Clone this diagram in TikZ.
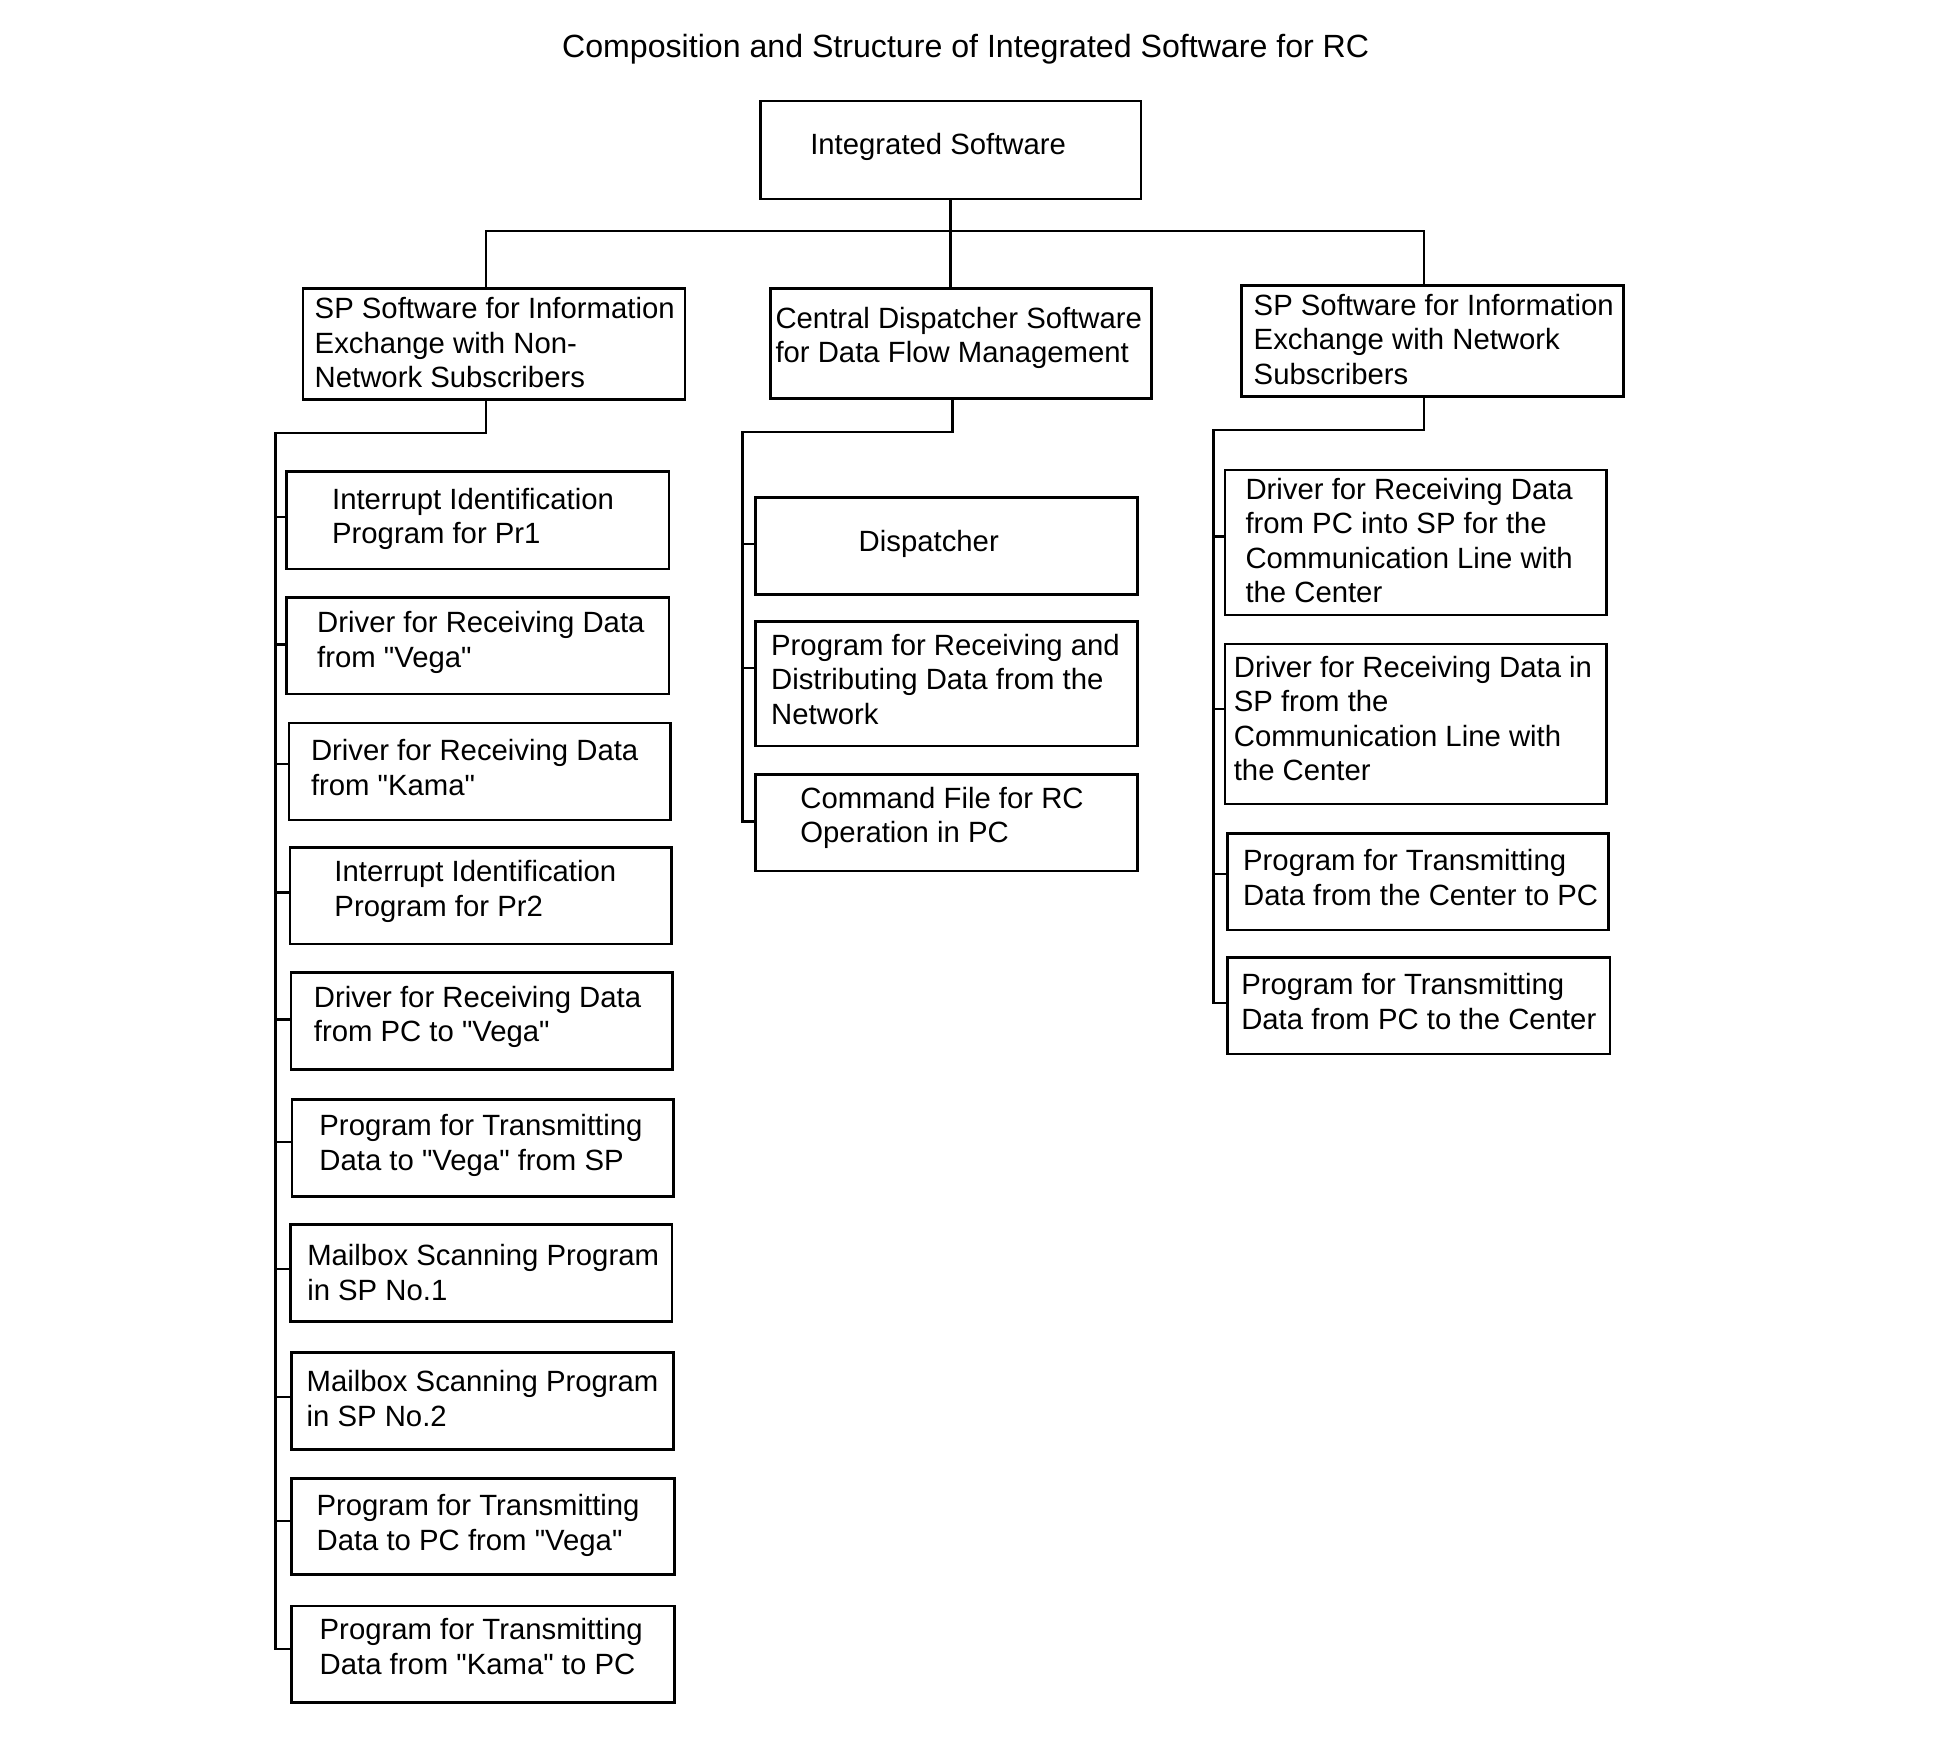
\documentclass[tikz,border=0pt]{standalone}
\usepackage{fontspec}
\setmainfont{Liberation Sans}[Ligatures=TeXOff]
\usetikzlibrary{fit}
\newcommand{\boxtext}[1]{\begin{tabular}[t]{@{}l@{}}#1\end{tabular}}
\begin{document}
\begin{tikzpicture}[x=0.4968pt,y=-0.4968pt,
  box/.style={draw, line width=1.15pt, inner sep=0pt},
  lbl/.style={anchor=base west, inner sep=0pt, font=\fontsize{11.72}{13.8}\selectfont},
  ttl/.style={anchor=base, inner sep=0pt, font=\fontsize{12.85}{15}\selectfont},
  conn/.style={line width=0.95pt, line join=miter}]
\fill[white] (0,0) rectangle (1566.8,1401);
\useasboundingbox (0,0) rectangle (1566.8,1401);

% title
\node[ttl] (title) at (777.5,46) {Composition and Structure of Integrated Software for RC};

% top box
\node[box, fit={(612,81.3)(918.7,160.2)}] (top) {};
\node[lbl] (topt) at (652,124) {Integrated Software};

% level 2
\node[box, fit={(244,232)(551.5,321.6)}] (sa) {};
\node[lbl] (sat) at (253,256.5) {\boxtext{SP Software for Information\\Exchange with Non-\\Network Subscribers}};
\node[box, fit={(620,232)(927,320.7)}] (sb) {};
\node[lbl] (sbt) at (624,264.4) {\boxtext{Central Dispatcher Software\\for Data Flow Management}};
\node[box, fit={(999.8,230)(1307,319.4)}] (sc) {};
\node[lbl] (sct) at (1009,254) {\boxtext{SP Software for Information\\Exchange with Network\\Subscribers}};

% left column
\node[box, fit={(230.8,379.8)(538.6,458.1)}] (l1) {};
\node[lbl] (l1t) at (267,410) {\boxtext{Interrupt Identification\\Program for Pr1}};
\node[box, fit={(230.8,481.2)(538.6,558.8)}] (l2) {};
\node[lbl] (l2t) at (255,509.4) {\boxtext{Driver for Receiving Data\\from "Vega"}};
\node[box, fit={(232.7,582.1)(540,660.2)}] (l3) {};
\node[lbl] (l3t) at (250,612.5) {\boxtext{Driver for Receiving Data\\from "Kama"}};
\node[box, fit={(233.5,682.2)(540.8,760)}] (l4) {};
\node[lbl] (l4t) at (268.9,709.9) {\boxtext{Interrupt Identification\\Program for Pr2}};
\node[box, fit={(234.3,783.2)(541.6,861)}] (l5) {};
\node[lbl] (l5t) at (252.3,811) {\boxtext{Driver for Receiving Data\\from PC to "Vega"}};
\node[box, fit={(235.1,885.1)(542.1,963)}] (l6) {};
\node[lbl] (l6t) at (256.8,914.6) {\boxtext{Program for Transmitting\\Data to "Vega" from SP}};
\node[box, fit={(234,986)(541,1064)}] (l7) {};
\node[lbl] (l7t) at (247,1019) {\boxtext{Mailbox Scanning Program\\in SP No.1}};
\node[box, fit={(235,1089)(542,1166.7)}] (l8) {};
\node[lbl] (l8t) at (246.5,1120.5) {\boxtext{Mailbox Scanning Program\\in SP No.2}};
\node[box, fit={(235,1190.5)(543,1268)}] (l9) {};
\node[lbl] (l9t) at (254.5,1220.5) {\boxtext{Program for Transmitting\\Data to PC from "Vega"}};
\node[box, fit={(235,1293)(543,1370.4)}] (l10) {};
\node[lbl] (l10t) at (257,1320.4) {\boxtext{Program for Transmitting\\Data from "Kama" to PC}};

% middle column
\node[box, fit={(608.4,400.7)(916,478.3)}] (m1) {};
\node[lbl] (m1t) at (691,444.2) {Dispatcher};
\node[box, fit={(608.4,500.5)(916,600.6)}] (m2) {};
\node[lbl] (m2t) at (620.5,527.4) {\boxtext{Program for Receiving and\\Distributing Data from the\\Network}};
\node[box, fit={(608.4,623.4)(916,701.3)}] (m3) {};
\node[lbl] (m3t) at (644,650.8) {\boxtext{Command File for RC\\Operation in PC}};

% right column
\node[box, fit={(986.3,378.4)(1293.6,495.2)}] (r1) {};
\node[lbl] (r1t) at (1002.4,402) {\boxtext{Driver for Receiving Data\\from PC into SP for the\\Communication Line with\\the Center}};
\node[box, fit={(986.3,518.5)(1293.6,647.3)}] (r2) {};
\node[lbl] (r2t) at (993,545.3) {\boxtext{Driver for Receiving Data in\\SP from the\\Communication Line with\\the Center}};
\node[box, fit={(988.2,671)(1295,748.8)}] (r3) {};
\node[lbl] (r3t) at (1000.5,701) {\boxtext{Program for Transmitting\\Data from the Center to PC}};
\node[box, fit={(988.5,771.1)(1296.3,848.6)}] (r4) {};
\node[lbl] (r4t) at (999,801) {\boxtext{Program for Transmitting\\Data from PC to the Center}};

% junction coordinates
\coordinate (bL) at (391.5,186);
\coordinate (bR) at (1146.3,186);
\coordinate (jL) at (391.5,348.6);
\coordinate (sL) at (221.8,348.6);
\coordinate (eL) at (221.8,1327.7);
\coordinate (jM) at (766.8,348);
\coordinate (sM) at (597.7,348);
\coordinate (eM) at (597.7,661.5);
\coordinate (jR) at (1146.6,346);
\coordinate (sR) at (976.9,346);
\coordinate (eR) at (976.9,807.6);

% top connectors
\draw[conn] (top.south) -- (sb.north -| top.south);
\draw[conn] (sa.north -| bL) -- (bL) -- (bR) -- (sc.north -| bR);

% left spine
\draw[conn] (sa.south -| jL) -- (jL) -- (sL) -- (eL) -- (l10.west |- eL);
\foreach \n/\y in {l1/416,l2/519,l3/615,l4/718.7,l5/820.7,l6/919.7,l7/1021.7,l8/1125,l9/1224.7}
  \draw[conn] (sL |- 0,\y) -- (\n.west |- 0,\y);

% middle spine
\draw[conn] (sb.south -| jM) -- (jM) -- (sM) -- (eM) -- (m3.west |- eM);
\foreach \n/\y in {m1/438,m2/538}
  \draw[conn] (sM |- 0,\y) -- (\n.west |- 0,\y);

% right spine
\draw[conn] (sc.south -| jR) -- (jR) -- (sR) -- (eR) -- (r4.west |- eR);
\foreach \n/\y in {r1/432,r2/571,r3/703.7}
  \draw[conn] (sR |- 0,\y) -- (\n.west |- 0,\y);
\end{tikzpicture}
\end{document}
